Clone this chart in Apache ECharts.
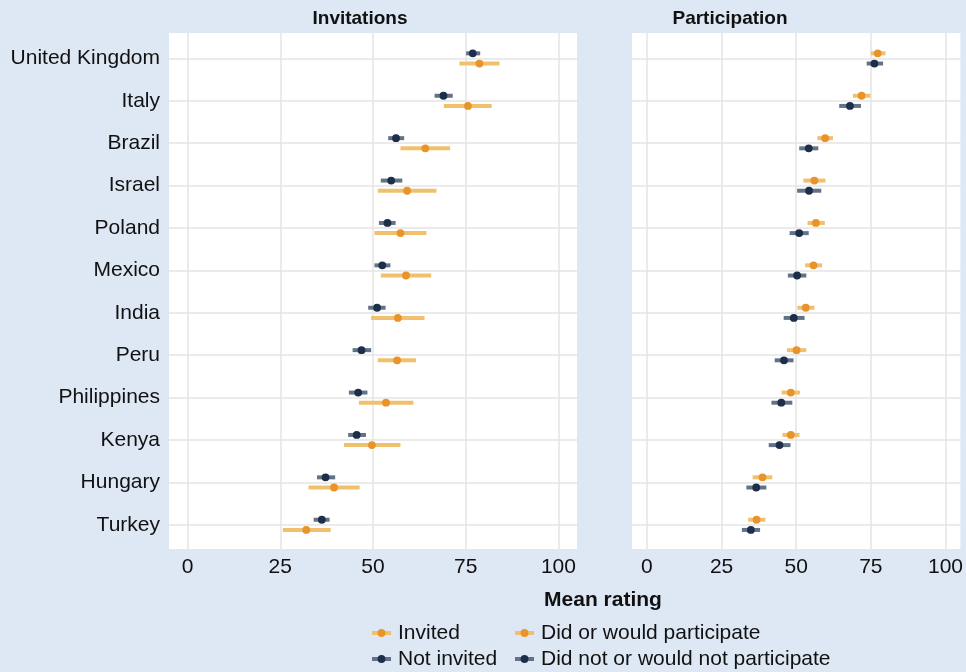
<!DOCTYPE html>
<html>
<head>
<meta charset="utf-8">
<script src="https://cdn.jsdelivr.net/npm/echarts@6/dist/echarts.min.js"></script>
<style>
html,body{margin:0;padding:0;background:#dde8f4;}
#chart{width:966px;height:672px;}
</style>
</head>
<body>
<div id="chart"></div>
<script>
// ---- data ----
const countries = ['United Kingdom','Italy','Brazil','Israel','Poland','Mexico','India','Peru','Philippines','Kenya','Hungary','Turkey'];
const xTicks = [0, 25, 50, 75, 100];

const invitedMean = [78.7, 75.6, 64.1, 59.2, 57.4, 58.9, 56.7, 56.5, 53.5, 49.7, 39.5, 32.0];
const invitedLow  = [73.3, 69.1, 57.4, 51.3, 50.4, 52.1, 49.5, 51.3, 46.2, 42.2, 32.6, 25.7];
const invitedHigh = [84.1, 82.0, 70.8, 67.1, 64.4, 65.7, 63.9, 61.6, 60.9, 57.4, 46.4, 38.6];

const notInvitedMean = [76.9, 69.0, 56.2, 54.9, 53.9, 52.5, 51.1, 46.9, 46.0, 45.6, 37.2, 36.2];
const notInvitedLow  = [75.1, 66.6, 54.1, 52.1, 51.6, 50.4, 48.7, 44.5, 43.5, 43.3, 34.9, 34.0];
const notInvitedHigh = [78.9, 71.5, 58.4, 57.9, 56.1, 54.7, 53.4, 49.5, 48.5, 48.1, 39.8, 38.3];

const participatedMean = [77.3, 71.9, 59.7, 56.1, 56.6, 55.8, 53.2, 50.1, 48.2, 48.2, 38.7, 36.7];
const participatedLow  = [75.0, 69.0, 57.1, 52.4, 53.8, 53.0, 50.4, 46.9, 45.1, 45.4, 35.4, 33.9];
const participatedHigh = [79.9, 74.9, 62.3, 59.8, 59.6, 58.7, 56.1, 53.4, 51.3, 51.1, 42.0, 39.7];

const notParticipatedMean = [76.2, 68.0, 54.2, 54.3, 51.0, 50.3, 49.2, 45.9, 45.0, 44.4, 36.6, 34.8];
const notParticipatedLow  = [73.6, 64.4, 51.0, 50.3, 47.8, 47.2, 45.8, 42.8, 41.7, 40.8, 33.3, 31.8];
const notParticipatedHigh = [79.1, 71.7, 57.4, 58.4, 54.2, 53.4, 52.8, 49.1, 48.7, 48.1, 40.0, 37.9];

// ---- styles ----
const FONT = "'Liberation Sans', Arial, Helvetica, sans-serif";
const ORANGE_DOT = '#e8942a';
const ORANGE_BAR = '#f1c06c';
const DARK_DOT = '#1c2e4a';
const DARK_BAR = '#627388';
const GRID_COLOR = '#e4e4e4';
const TEXT = '#111111';

function build(mean, low, high) {
  return countries.map((c, i) => [mean[i], low[i], high[i], i]);
}

function makeRenderer(offset, barColor, dotColor) {
  return function (params, api) {
    const yv = api.value(3) + offset;
    const lo = api.coord([api.value(1), yv]);
    const hi = api.coord([api.value(2), yv]);
    const c = api.coord([api.value(0), yv]);
    return {
      type: 'group',
      children: [
        { type: 'line', shape: { x1: lo[0], y1: lo[1], x2: hi[0], y2: hi[1] },
          style: { stroke: barColor, lineWidth: 4, lineCap: 'butt' } },
        { type: 'circle', shape: { cx: c[0], cy: c[1], r: 3.9 },
          style: { fill: dotColor } }
      ]
    };
  };
}

const yIdx = countries.map((c, i) => i);

function xAxisDef(gridIndex) {
  return {
    type: 'value', gridIndex, min: -5, max: 105,
    axisLine: { show: false },
    axisTick: { show: false, customValues: xTicks },
    axisLabel: { customValues: xTicks, color: TEXT, fontSize: 21, fontFamily: FONT, margin: 8 },
    splitLine: { show: true, lineStyle: { color: GRID_COLOR, width: 1.5 } }
  };
}
function yAxisDef(gridIndex, showLabels) {
  return {
    type: 'value', gridIndex, inverse: true, min: -0.6, max: 11.57,
    axisLine: { show: false },
    axisTick: { show: false, customValues: yIdx },
    axisLabel: { show: showLabels, customValues: yIdx, color: TEXT, fontSize: 21, fontFamily: FONT, margin: 9,
      formatter: v => countries[Math.round(v)] },
    splitLine: { show: true, lineStyle: { color: GRID_COLOR, width: 1.5 } }
  };
}

const legendItems = [
  { name: 'Invited', bar: ORANGE_BAR, dot: ORANGE_DOT, x: 372, y: 633 },
  { name: 'Not invited', bar: DARK_BAR, dot: DARK_DOT, x: 372, y: 659 },
  { name: 'Did or would participate', bar: ORANGE_BAR, dot: ORANGE_DOT, x: 515, y: 633 },
  { name: 'Did not or would not participate', bar: DARK_BAR, dot: DARK_DOT, x: 515, y: 659 }
];
const legendGraphics = [];
legendItems.forEach(it => {
  legendGraphics.push({ type: 'rect', shape: { x: it.x, y: it.y - 2, width: 19, height: 4 }, style: { fill: it.bar } });
  legendGraphics.push({ type: 'circle', shape: { cx: it.x + 9.5, cy: it.y, r: 3.9 }, style: { fill: it.dot } });
  legendGraphics.push({ type: 'text', x: it.x + 26, y: it.y,
    style: { text: it.name, fill: TEXT, font: '21px ' + FONT, textVerticalAlign: 'middle', textAlign: 'left' } });
});

const chart = echarts.init(document.getElementById('chart'), null, { renderer: 'canvas' });
chart.setOption({
  backgroundColor: '#dde8f4',
  animation: false,
  grid: [
    { left: 169, top: 33, width: 408, height: 516, show: true, backgroundColor: '#ffffff', borderWidth: 0 },
    { left: 632, top: 33, width: 330, height: 516, show: true, backgroundColor: '#ffffff', borderWidth: 0 }
  ],
  xAxis: [xAxisDef(0), xAxisDef(1)],
  yAxis: [yAxisDef(0, true), yAxisDef(1, false)],
  graphic: [
    { type: 'text', x: 360, y: 19, style: { text: 'Invitations', fill: TEXT, font: 'bold 19px ' + FONT, textAlign: 'center', textVerticalAlign: 'middle' } },
    { type: 'text', x: 730, y: 19, style: { text: 'Participation', fill: TEXT, font: 'bold 19px ' + FONT, textAlign: 'center', textVerticalAlign: 'middle' } },
    { type: 'text', x: 603, y: 600, style: { text: 'Mean rating', fill: TEXT, font: 'bold 21px ' + FONT, textAlign: 'center', textVerticalAlign: 'middle' } }
  ].concat(legendGraphics),
  series: [
    { name: 'Not invited', type: 'custom', xAxisIndex: 0, yAxisIndex: 0,
      renderItem: makeRenderer(-0.12, DARK_BAR, DARK_DOT),
      encode: { x: [0, 1, 2], y: 3 }, data: build(notInvitedMean, notInvitedLow, notInvitedHigh) },
    { name: 'Invited', type: 'custom', xAxisIndex: 0, yAxisIndex: 0,
      renderItem: makeRenderer(0.12, ORANGE_BAR, ORANGE_DOT),
      encode: { x: [0, 1, 2], y: 3 }, data: build(invitedMean, invitedLow, invitedHigh) },
    { name: 'Did or would participate', type: 'custom', xAxisIndex: 1, yAxisIndex: 1,
      renderItem: makeRenderer(-0.12, ORANGE_BAR, ORANGE_DOT),
      encode: { x: [0, 1, 2], y: 3 }, data: build(participatedMean, participatedLow, participatedHigh) },
    { name: 'Did not or would not participate', type: 'custom', xAxisIndex: 1, yAxisIndex: 1,
      renderItem: makeRenderer(0.12, DARK_BAR, DARK_DOT),
      encode: { x: [0, 1, 2], y: 3 }, data: build(notParticipatedMean, notParticipatedLow, notParticipatedHigh) }
  ]
});
</script>
</body>
</html>
